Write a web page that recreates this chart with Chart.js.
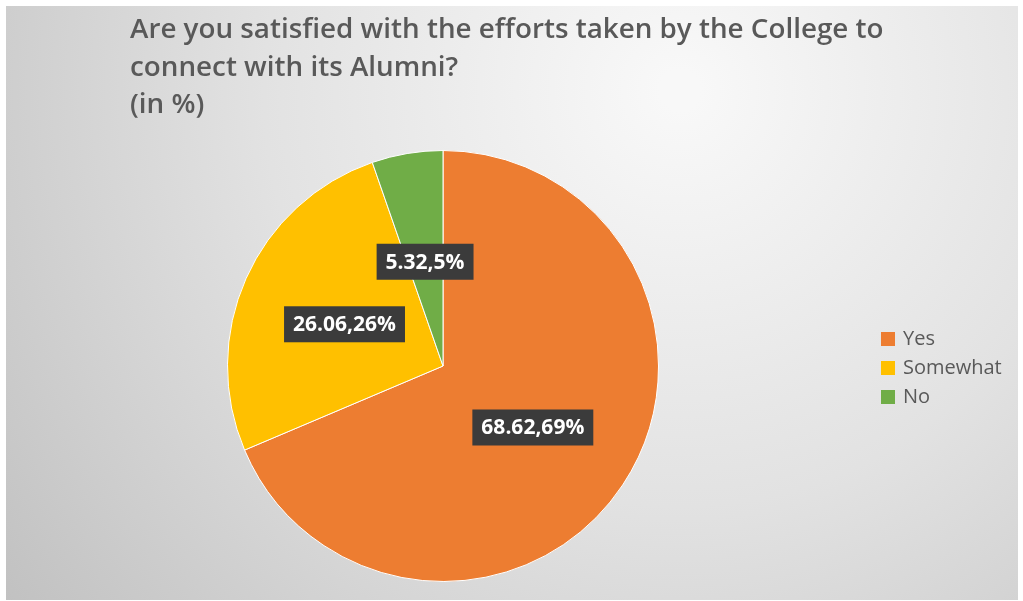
<!DOCTYPE html>
<html>
<head>
<meta charset="utf-8">
<script src="https://cdn.jsdelivr.net/npm/chart.js@4/dist/chart.umd.min.js"></script>
<style>
  html, body { margin: 0; padding: 0; background: #fff; }
  #wrap { width: 1023px; height: 601px; position: relative; }
</style>
</head>
<body>
<div id="wrap"><canvas id="pieChart"></canvas></div>
<script>
const categories = ['Yes', 'Somewhat', 'No'];
const values = [68.62, 26.06, 5.32];
const colors = ['#ED7D31', '#FFC000', '#70AD47'];
const titleLines = [
  'Are you satisfied with the efforts taken by the College to',
  'connect with its Alumni?',
  '(in %)'
];

const FONT = '"Open Sans", "Noto Sans", sans-serif';

// grey gradient panel behind everything
const backdrop = {
  id: 'backdrop',
  beforeDraw(chart) {
    const c = chart.ctx;
    c.save();
    c.fillStyle = '#fff';
    c.fillRect(0, 0, chart.width, chart.height);
    const g = c.createRadialGradient(680, 90, 20, 680, 90, 900);
    g.addColorStop(0, '#f8f8f8');
    g.addColorStop(0.45, '#e2e2e2');
    g.addColorStop(1, '#bdbdbd');
    c.fillStyle = g;
    c.fillRect(6, 6, 1012, 594);
    c.restore();
  }
};

// title, value boxes and legend
const overlay = {
  id: 'overlay',
  afterDraw(chart) {
    const c = chart.ctx;
    c.save();
    c.fillStyle = '#595959';
    c.font = '600 27.8px ' + FONT;
    c.textBaseline = 'alphabetic';
    const baselines = [38, 76, 113];
    titleLines.forEach((t, i) => c.fillText(t, 130, baselines[i]));

    const meta = chart.getDatasetMeta(0);
    const total = values.reduce((a, b) => a + b, 0);
    c.font = 'bold 21px ' + FONT;
    c.textAlign = 'center';
    c.textBaseline = 'middle';
    meta.data.forEach((arc, i) => {
      const p = arc.tooltipPosition();
      const txt = values[i].toFixed(2) + ',' + Math.round(values[i] / total * 100) + '%';
      const w = c.measureText(txt).width + 18;
      const h = 36;
      const cy = p.y + 2;
      c.fillStyle = '#3b3b3b';
      c.fillRect(p.x - w / 2, cy - h / 2, w, h);
      c.fillStyle = '#ffffff';
      c.fillText(txt, p.x, cy + 1);
    });

    c.textAlign = 'left';
    c.font = '20px ' + FONT;
    categories.forEach((name, i) => {
      const y = 339 + i * 29;
      c.fillStyle = colors[i];
      c.fillRect(881, y - 7, 14, 14);
      c.fillStyle = '#595959';
      c.fillText(name, 903, y);
    });
    c.restore();
  }
};

new Chart(document.getElementById('pieChart'), {
  type: 'pie',
  data: {
    labels: categories,
    datasets: [{
      data: values,
      backgroundColor: colors,
      borderColor: '#ffffff',
      borderWidth: 1
    }]
  },
  options: {
    responsive: true,
    maintainAspectRatio: false,
    animation: false,
    layout: { padding: { left: 227, right: 364, top: 150, bottom: 19 } },
    plugins: {
      legend: { display: false },
      title: { display: false },
      tooltip: { enabled: false }
    }
  },
  plugins: [backdrop, overlay]
});
</script>
</body>
</html>
